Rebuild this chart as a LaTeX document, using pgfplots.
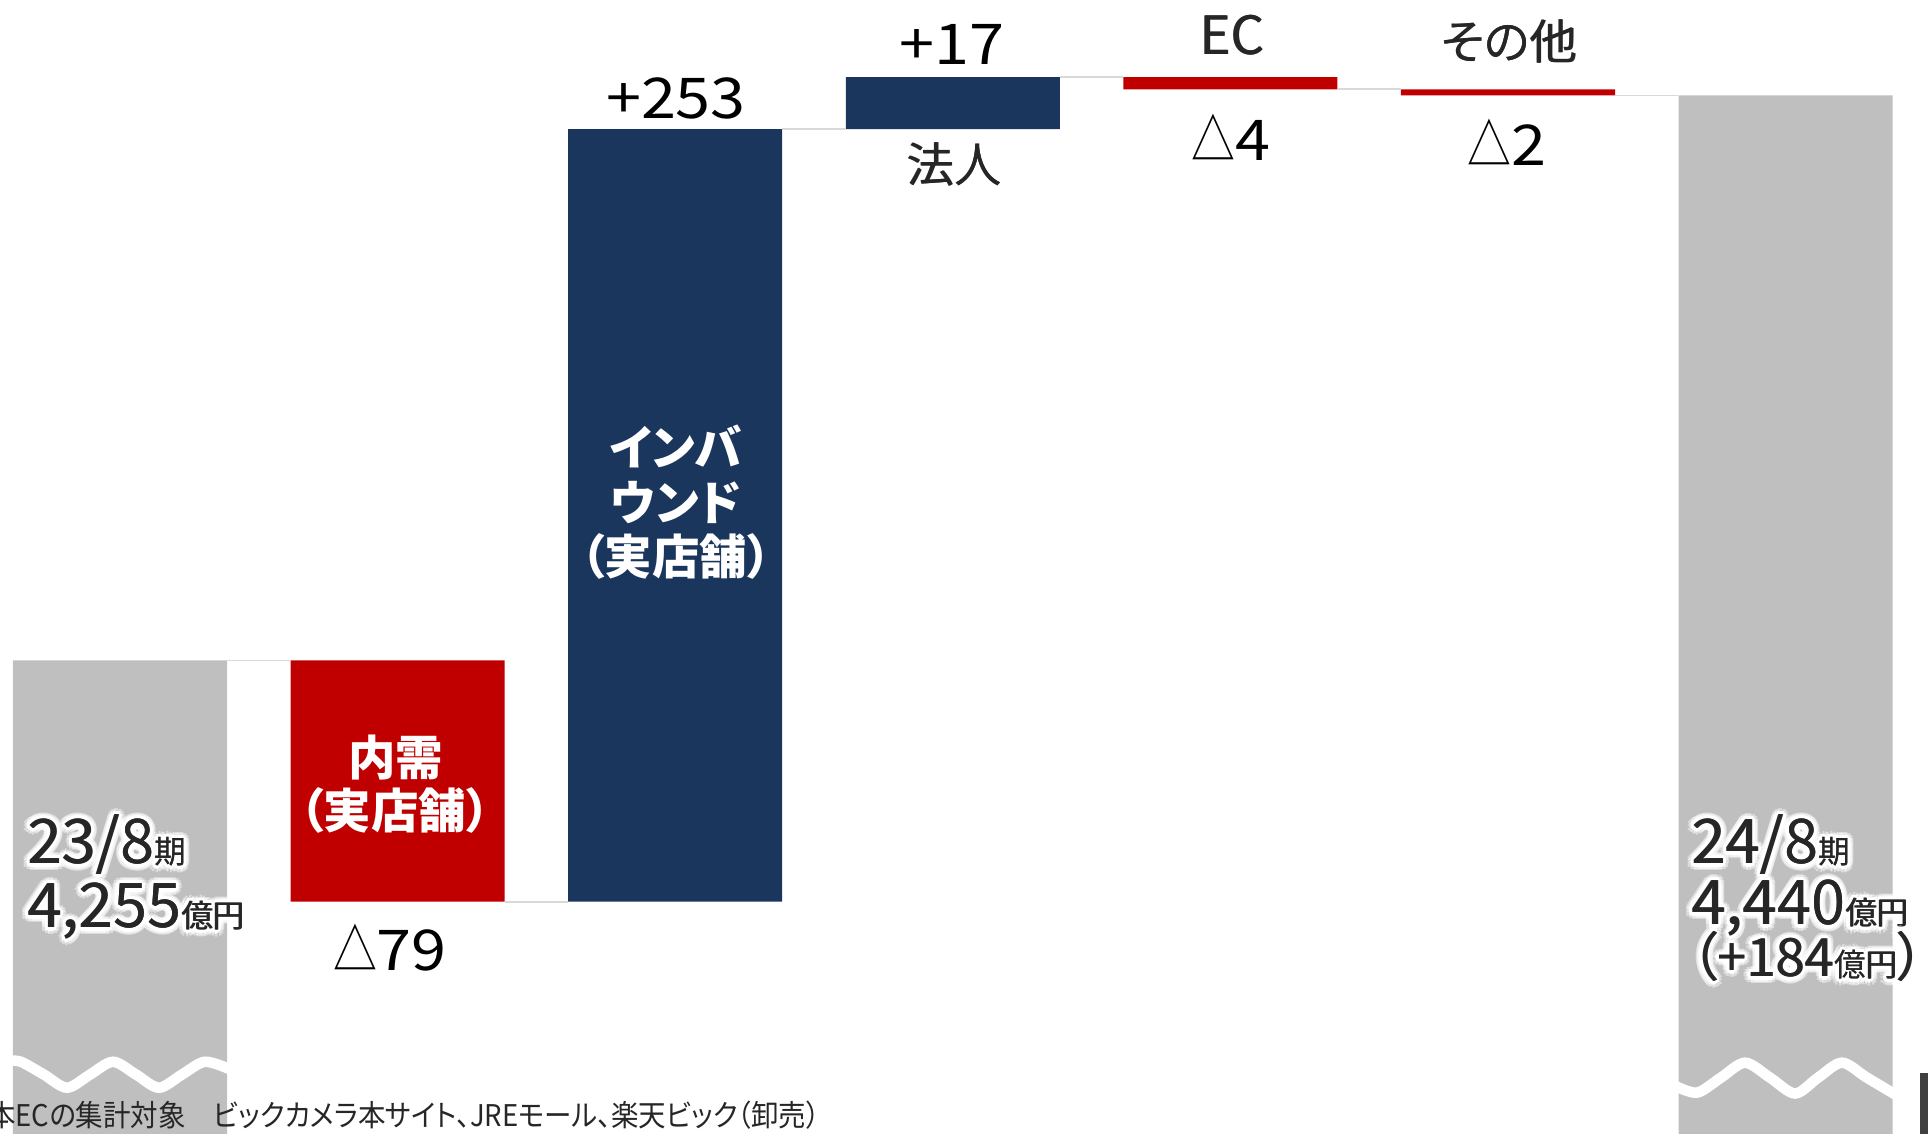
\documentclass[border=0pt]{standalone}
\usepackage{fontspec}
\usepackage{pgfplots}
\pgfplotsset{compat=1.18}
\setmainfont{Noto Sans CJK JP}[RawFeature=+palt]
\newfontfamily\numfont{Noto Sans CJK JP}[FakeStretch=1.12]
\newfontfamily\trifont{Noto Sans CJK JP}[FakeStretch=0.78]
\newfontfamily\notefont{Noto Sans CJK JP}[RawFeature=+palt, FakeStretch=0.92]

\definecolor{barGray}{HTML}{BFBFBF}
\definecolor{barRed}{HTML}{C00000}
\definecolor{barNavy}{HTML}{1B365D}
\definecolor{txt}{HTML}{262626}
\definecolor{conn}{HTML}{D9D9D9}

% place text by pixel position of the 1928x1134 reference
\newcommand\lbl[4][]{\node[inner sep=0pt,text=txt,#1] at (rel axis cs:{#2/1928},{1-#3/1134}) {#4};}
% slightly heavier text (drawn twice)
\newcommand\lblm[4][]{\lbl[#1]{#2}{#3}{#4}\lbl[#1,xshift=0.22pt]{#2}{#3}{#4}}
% heavier text with a white halo
\newcommand\glow[4][]{%
  \pgfplotsinvokeforeach{0,30,...,330}{\node[inner sep=0pt,text=white,text opacity=0.45,#1,shift={(##1:1.9pt)}] at (rel axis cs:{#2/1928},{1-#3/1134}) {#4};}%
  \pgfplotsinvokeforeach{0,30,...,330}{\node[inner sep=0pt,text=white,#1,shift={(##1:1pt)}] at (rel axis cs:{#2/1928},{1-#3/1134}) {#4};}%
  \lblm[#1]{#2}{#3}{#4}}

\newcommand\bignum[1]{{\fontsize{17.5}{20}\selectfont #1}}
\newcommand\midtxt[1]{{\fontsize{13.5}{16}\selectfont #1}}
\newcommand\smtxt[1]{{\fontsize{9}{11}\selectfont #1}}
\newcommand\val[1]{{\numfont\fontsize{16}{18}\selectfont #1}}
\newcommand\dec[1]{{\trifont\fontsize{16}{18}\selectfont △}\val{#1}}

\begin{document}
\begin{tikzpicture}
\begin{axis}[
    width=19.28cm, height=11.34cm,
    scale only axis,
    hide axis,
    xmin=-0.4323, xmax=6.513,
    ymin=4100, ymax=4471.3,
    ybar stacked,
    reverse stacked plots=false,
    bar width=0.771,
    unbounded coords=jump,
    line/.style={stack plots=false, sharp plot},
]
% invisible base of the floating bars
\addplot[fill=none, draw=none] coordinates {(0,0) (1,4176) (2,4176) (3,4429) (4,4442) (5,4440) (6,0)};
% totals
\addplot[fill=barGray, draw=none] coordinates {(0,4255) (1,0) (2,0) (3,0) (4,0) (5,0) (6,4440)};
% decreases
\addplot[fill=barRed, draw=none] coordinates {(0,0) (1,79) (2,0) (3,0) (4,4) (5,2) (6,0)};
% increases
\addplot[fill=barNavy, draw=none] coordinates {(0,0) (1,0) (2,253) (3,17) (4,0) (5,0) (6,0)};

% connectors
\addplot[line, conn, line width=0.5pt] coordinates {
  (0.386,4255) (0.614,4255) (0.614,nan)
  (1.386,4176) (1.614,4176) (1.614,nan)
  (2.386,4429) (2.614,4429) (2.614,nan)
  (3.386,4446) (3.614,4446) (3.614,nan)
  (4.386,4442) (4.614,4442) (4.614,nan)
  (5.386,4440) (5.614,4440)};

% axis break waves
\addplot[line, smooth, white, line width=3pt] coordinates {
  (-0.40,4123.9) (-0.357,4123.6) (-0.274,4119.4) (-0.191,4115.1) (-0.108,4119.4)
  (-0.025,4123.6) (0.058,4119.4) (0.140,4115.1) (0.223,4119.4) (0.306,4123.6) (0.40,4121.0)};
\addplot[line, smooth, white, line width=3pt] coordinates {
  (5.60,4115.8) (5.681,4113.5) (5.767,4118.4) (5.854,4123.3) (5.944,4118.4)
  (6.034,4113.2) (6.117,4118.4) (6.203,4123.3) (6.293,4118.4) (6.40,4112.6)};

% value and category labels
\lbl[anchor=base, text=black]{676}{119}{\val{+253}}
\lbl[anchor=base, text=black]{952}{65}{\val{+17}}
\lblm[anchor=base]{954}{183}{\midtxt{法人}}
\lblm[anchor=base]{1232}{55}{\fontsize{15}{18}\selectfont EC}
\lblm[anchor=base]{1509}{60}{\midtxt{その他}}
\lbl[anchor=base, text=black]{1231}{161}{\dec{4}}
\lbl[anchor=base, text=black]{1507}{166}{\dec{2}}
\lbl[anchor=base, text=black]{390}{971}{\dec{79}}

\lbl[anchor=base, text=white]{396}{776}{\bfseries\midtxt{内需}}
\lbl[anchor=base, text=white]{395}{829}{\bfseries\midtxt{（実店舗）}}
\lbl[anchor=base, text=white]{676}{466}{\bfseries\midtxt{インバ}}
\lbl[anchor=base, text=white]{676}{521}{\bfseries\midtxt{ウンド}}
\lbl[anchor=base, text=white]{676}{575}{\bfseries\midtxt{（実店舗）}}

\glow[anchor=base west]{27}{864}{\bignum{23/8}\smtxt{期}}
\glow[anchor=base west]{27}{928}{\bignum{4,255}\smtxt{億円}}
\glow[anchor=base west]{1691}{864}{\bignum{24/8}\smtxt{期}}
\glow[anchor=base west]{1691}{925}{\bignum{4,440}\smtxt{億円}}
\glow[anchor=base west]{1690}{977}{\fontsize{15}{18}\selectfont （+184\smtxt{億円}）}

% footnote, cut at the left edge
\lbl[anchor=base west]{-40}{1127}{\notefont\fontsize{8.5}{10}\selectfont ※本ECの集計対象　ビックカメラ本サイト、JREモール、楽天ビック（卸売）}
\fill[black!75] (rel axis cs:{1920/1928},{1-1073/1134}) rectangle (rel axis cs:1,0);
\end{axis}
\pgfresetboundingbox
\path[use as bounding box] (current axis.south west) rectangle (current axis.north east);
\end{tikzpicture}
\end{document}
